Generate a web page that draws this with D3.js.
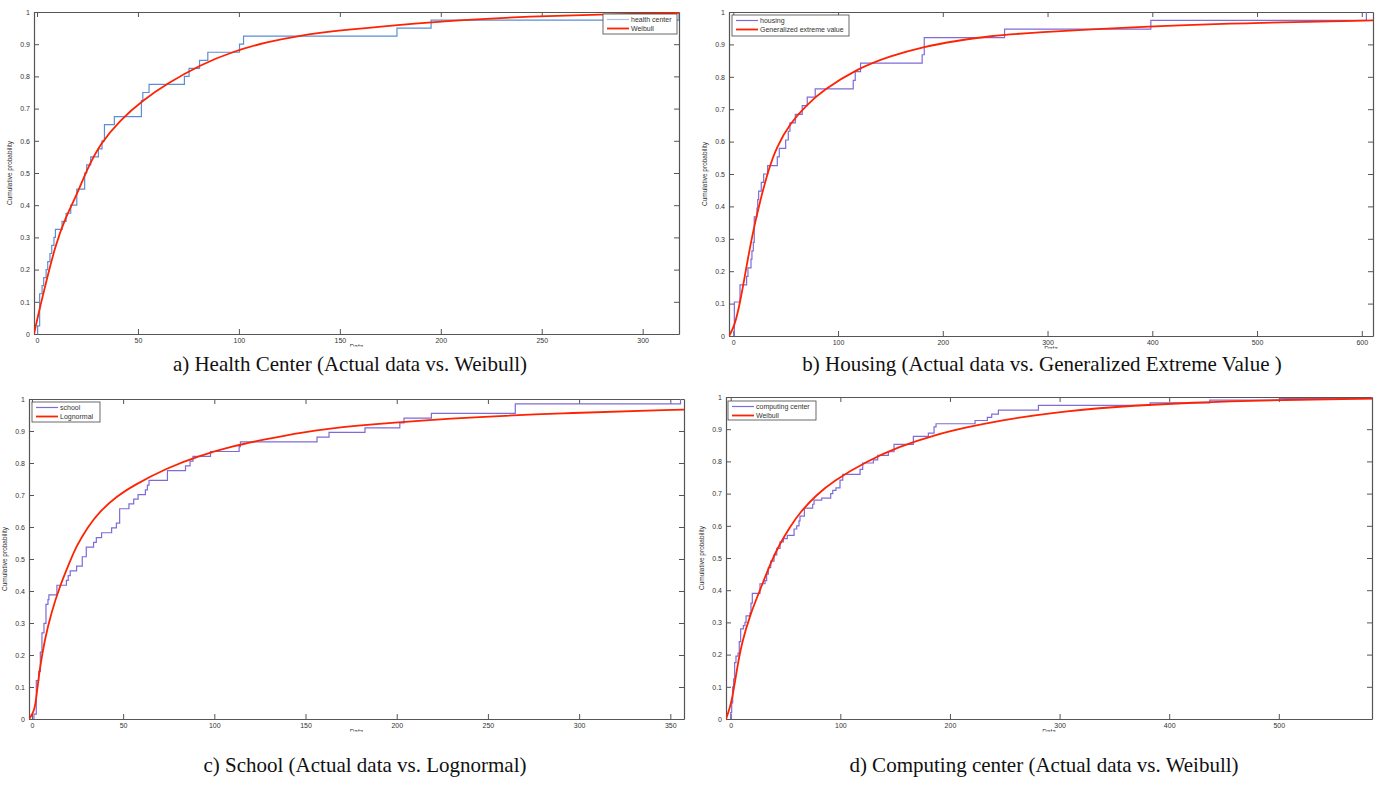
<!DOCTYPE html>
<html>
<head>
<meta charset="utf-8">
<script src="https://cdn.jsdelivr.net/npm/d3@7"></script>
<style>
body { margin: 0; background: #fff; }
.tick-label, .axis-label, .legend-text { font-family: "Liberation Sans", Arial, sans-serif; fill: #333; }
.caption { font-family: "Liberation Serif", "Times New Roman", serif; fill: #111; }
</style>
</head>
<body>
<svg id="fig" width="1385" height="785"></svg>
<script>
// ---- data ----
const probTicks = [0, 0.1, 0.2, 0.3, 0.4, 0.5, 0.6, 0.7, 0.8, 0.9, 1]

// a) health center
const healthXLim = [-1.5, 318]
const healthXTicks = [0, 50, 100, 150, 200, 250, 300]
const healthX = [0.3, 1.3, 2.5, 3.3, 4.5, 5.3, 6.4, 7.3, 8.4, 9.1, 12.4, 14.4, 16.7, 19.7, 23.6, 24.6, 26.6, 30.4, 32.2, 33.4, 38.3, 51.7, 52.4, 55.5, 73, 75.3, 80.5, 84.6, 100.3, 102.3, 178.3, 195.2, 318]
const healthP = [0.025, 0.125, 0.15, 0.175, 0.2, 0.225, 0.25, 0.275, 0.3, 0.325, 0.35, 0.375, 0.4, 0.45, 0.5, 0.525, 0.55, 0.575, 0.6, 0.65, 0.675, 0.725, 0.75, 0.775, 0.8, 0.825, 0.85, 0.875, 0.9, 0.925, 0.95, 0.975, 1]
const healthFitX = [-1.5, 1.5, 4.8, 8.9, 13.9, 19.7, 24.6, 31.2, 41.2, 52.7, 64.3, 80.8, 97.3, 113.9, 130.4, 146.9, 178.3, 211.4, 244.4, 277.5, 318]
const healthFitP = [0, 0.085, 0.168, 0.271, 0.359, 0.432, 0.509, 0.59, 0.665, 0.727, 0.777, 0.836, 0.878, 0.907, 0.927, 0.941, 0.96, 0.976, 0.986, 0.992, 0.997]

// b) housing
const housingXLim = [-4.1, 610.7]
const housingXTicks = [0, 100, 200, 300, 400, 500, 600]
const housingX = [1, 6.4, 12.7, 14, 16.9, 17.8, 19.1, 20, 22.6, 23.3, 24.2, 26.7, 29, 32.8, 42, 43.9, 50, 52.5, 54.1, 59.2, 65.8, 70.6, 78.2, 114.5, 116.4, 121.5, 180.3, 182.3, 259, 398.6, 604.4]
const housingP = [0.105, 0.158, 0.184, 0.21, 0.237, 0.263, 0.289, 0.368, 0.395, 0.421, 0.447, 0.474, 0.5, 0.526, 0.553, 0.579, 0.605, 0.632, 0.658, 0.684, 0.711, 0.737, 0.763, 0.789, 0.816, 0.842, 0.868, 0.921, 0.947, 0.974, 1]
const housingFitX = [-4.1, 1, 6.4, 12.8, 19.1, 25.5, 33.4, 41.4, 54.1, 70, 85.9, 117.7, 149.5, 181.3, 213.2, 245, 283, 397.6, 505.7, 610.7]
const housingFitP = [0, 0.029, 0.1, 0.219, 0.327, 0.415, 0.512, 0.584, 0.656, 0.713, 0.759, 0.824, 0.864, 0.893, 0.911, 0.926, 0.936, 0.957, 0.967, 0.974]

// c) school
const schoolXLim = [-1.6, 357.5]
const schoolXTicks = [0, 50, 100, 150, 200, 250, 300, 350]
const schoolX = [1.1, 2.4, 3.7, 4.6, 5.5, 6.6, 7.7, 8.8, 9.3, 13.7, 18.9, 19.9, 21, 24.5, 27.6, 29.8, 33.8, 35.3, 38.2, 43.7, 46.3, 48.1, 53.2, 55.8, 58.2, 62.2, 63.3, 64.2, 74.3, 84.2, 86.7, 88.3, 97.9, 113.6, 114.3, 156.3, 162.9, 182.6, 201.7, 204, 219, 265, 355.6]
const schoolP = [0.015, 0.12, 0.149, 0.209, 0.269, 0.299, 0.358, 0.373, 0.388, 0.418, 0.433, 0.448, 0.463, 0.478, 0.507, 0.537, 0.552, 0.567, 0.582, 0.597, 0.612, 0.657, 0.672, 0.687, 0.701, 0.716, 0.731, 0.746, 0.776, 0.791, 0.806, 0.821, 0.836, 0.851, 0.866, 0.881, 0.896, 0.91, 0.925, 0.94, 0.955, 0.985, 1]
const schoolFitX = [-1.6, 1.5, 2.7, 4.2, 7, 10.6, 15.2, 21.2, 24.3, 30.7, 37.1, 46.3, 55.4, 73.7, 92, 110.3, 128.6, 146.8, 174.3, 229, 290, 357.5]
const schoolFitP = [0, 0.024, 0.081, 0.154, 0.248, 0.331, 0.414, 0.497, 0.539, 0.601, 0.648, 0.695, 0.729, 0.784, 0.823, 0.853, 0.875, 0.895, 0.916, 0.94, 0.956, 0.967]

// d) computing center
const computingXLim = [-4.3, 585]
const computingXTicks = [0, 100, 200, 300, 400, 500]
const computingX = [0, 0.9, 1.8, 2.7, 3.6, 4.8, 6.7, 7.8, 9.1, 11.5, 13, 14, 17.6, 18.5, 19.7, 26.7, 31.3, 32.8, 34.3, 36.5, 39.5, 42, 45, 48, 51.6, 57.8, 60.2, 62.3, 63.2, 67.2, 74.8, 76, 83, 91.2, 93.1, 96, 99.7, 102.2, 118, 120.4, 130.1, 134.1, 143.8, 149, 166.6, 180.3, 185.5, 187.3, 222.9, 234.1, 238.1, 244.2, 280.7, 382.6, 437, 501, 585]
const computingP = [0.02, 0.05, 0.1, 0.125, 0.175, 0.195, 0.205, 0.24, 0.28, 0.29, 0.3, 0.32, 0.33, 0.36, 0.39, 0.42, 0.43, 0.45, 0.47, 0.49, 0.51, 0.53, 0.55, 0.56, 0.57, 0.59, 0.6, 0.615, 0.63, 0.655, 0.667, 0.68, 0.686, 0.7, 0.71, 0.718, 0.742, 0.76, 0.775, 0.795, 0.805, 0.819, 0.83, 0.853, 0.878, 0.888, 0.907, 0.917, 0.927, 0.937, 0.947, 0.959, 0.974, 0.982, 0.99, 0.995, 1]
const computingFitX = [-4.3, 0.9, 5.5, 10, 17.6, 26.7, 37.4, 45, 54.1, 63.2, 78.5, 93.6, 124.1, 154.5, 184.9, 215.3, 245.7, 291.3, 350, 420, 500, 585]
const computingFitP = [0, 0.049, 0.152, 0.235, 0.323, 0.4, 0.493, 0.545, 0.597, 0.642, 0.697, 0.739, 0.801, 0.847, 0.881, 0.906, 0.927, 0.951, 0.97, 0.983, 0.991, 0.995]

// ---- drawing ----
const svg = d3.select('#fig')

const panels = [
    {box: [34, 12, 679, 334], xlim: healthXLim, xticks: healthXTicks, x: healthX, p: healthP,
     fitX: healthFitX, fitP: healthFitP, color: '#5b8ed6', legendColor: '#a9c3e6',
     names: ['health center', 'Weibull'], legend: [603, 14, 74, 20],
     caption: 'a) Health Center (Actual data vs. Weibull)', capX: 350, capY: 371},
    {box: [729, 12, 1373, 336], xlim: housingXLim, xticks: housingXTicks, x: housingX, p: housingP,
     fitX: housingFitX, fitP: housingFitP, color: '#7d6cd8', legendColor: '#7d6cd8',
     names: ['housing', 'Generalized extreme value'], legend: [732, 15, 117, 21],
     caption: 'b) Housing (Actual data vs. Generalized Extreme Value )', capX: 1042, capY: 371},
    {box: [29, 399, 684, 719], xlim: schoolXLim, xticks: schoolXTicks, x: schoolX, p: schoolP,
     fitX: schoolFitX, fitP: schoolFitP, color: '#7d6cd8', legendColor: '#7d6cd8',
     names: ['school', 'Lognormal'], legend: [32, 402, 68, 20],
     caption: 'c) School (Actual data vs. Lognormal)', capX: 365, capY: 772},
    {box: [726, 397, 1372, 719], xlim: computingXLim, xticks: computingXTicks, x: computingX, p: computingP,
     fitX: computingFitX, fitP: computingFitP, color: '#7d6cd8', legendColor: '#7d6cd8',
     names: ['computing center', 'Weibull'], legend: [728, 401, 88, 19],
     caption: 'd) Computing center (Actual data vs. Weibull)', capX: 1044, capY: 772}
]

const red = '#ff2200'
const axisColor = '#555'

const draw_panel = function(cfg, idx) {
    const [x0, y0, x1, y1] = cfg.box
    const xScale = d3.scaleLinear().domain(cfg.xlim).range([x0, x1])
    const yScale = d3.scaleLinear().domain([0, 1]).range([y1, y0])

    const g = svg.append('g')

    const clipId = 'clip' + idx
    g.append('clipPath').attr('id', clipId)
     .append('rect').attr('x', x0).attr('y', y0 - 2).attr('width', x1 - x0).attr('height', y1 - y0 + 4)

    // axes, MATLAB style: ticks inward, box on
    const bottom = d3.axisBottom(xScale).tickValues(cfg.xticks).tickSize(-5).tickPadding(4).tickSizeOuter(0)
    const top = d3.axisTop(xScale).tickValues(cfg.xticks).tickSize(-5).tickFormat('').tickSizeOuter(0)
    const left = d3.axisLeft(yScale).tickValues(probTicks).tickSize(-5).tickPadding(4)
                   .tickFormat(d => d === 0 || d === 1 ? d3.format('d')(d) : d3.format('.1f')(d)).tickSizeOuter(0)
    const right = d3.axisRight(yScale).tickValues(probTicks).tickSize(-5).tickFormat('').tickSizeOuter(0)

    const axes = [
        [bottom, `translate(0,${y1})`],
        [top, `translate(0,${y0})`],
        [left, `translate(${x0},0)`],
        [right, `translate(${x1},0)`]
    ]
    axes.forEach(([ax, tr]) => {
        const a = g.append('g').attr('transform', tr).call(ax)
        a.select('.domain').attr('stroke', axisColor).attr('stroke-width', 1.2)
        a.selectAll('.tick line').attr('stroke', axisColor).attr('stroke-width', 1)
        a.selectAll('.tick text').attr('class', 'tick-label').attr('font-size', 7).attr('fill', '#333')
    })

    // empirical cdf as stairs
    const steps = [{x: cfg.x[0], p: 0}].concat(cfg.x.map((v, i) => ({x: v, p: cfg.p[i]})))
    const stairs = d3.line().x(d => xScale(d.x)).y(d => yScale(d.p)).curve(d3.curveStepAfter)
    g.append('path')
     .attr('clip-path', `url(#${clipId})`)
     .attr('d', stairs(steps))
     .attr('fill', 'none').attr('stroke', cfg.color).attr('stroke-width', 1.2)

    // fitted distribution
    const fit = cfg.fitX.map((v, i) => ({x: v, p: cfg.fitP[i]}))
    const fitLine = d3.line().x(d => xScale(d.x)).y(d => yScale(d.p)).curve(d3.curveBasis)
    g.append('path')
     .attr('clip-path', `url(#${clipId})`)
     .attr('d', fitLine(fit))
     .attr('fill', 'none').attr('stroke', red).attr('stroke-width', 1.8)

    // legend
    const [lx, ly, lw, lh] = cfg.legend
    const leg = g.append('g')
    leg.append('rect').attr('x', lx).attr('y', ly).attr('width', lw).attr('height', lh)
       .attr('fill', '#fff').attr('stroke', '#444').attr('stroke-width', 0.8)
    const legColors = [cfg.legendColor, red]
    cfg.names.forEach((name, i) => {
        const yy = ly + 5.5 + i * 9
        leg.append('line').attr('x1', lx + 4).attr('x2', lx + 26).attr('y1', yy).attr('y2', yy)
           .attr('stroke', legColors[i]).attr('stroke-width', i === 0 ? 1.2 : 1.8)
        leg.append('text').attr('class', 'legend-text').attr('x', lx + 28).attr('y', yy + 2.3)
           .attr('font-size', 7).text(name)
    })

    // axis labels
    g.append('text').attr('class', 'axis-label')
     .attr('transform', `translate(${x0 - 22},${(y0 + y1) / 2}) rotate(-90)`)
     .attr('text-anchor', 'middle').attr('font-size', 6.5).text('Cumulative probability')
    g.append('text').attr('class', 'axis-label')
     .attr('x', (x0 + x1) / 2).attr('y', y1 + 14.5).attr('text-anchor', 'middle')
     .attr('font-size', 6.5).text('Data')

    // the caption image sits over the bottom half of "Data"
    g.append('rect').attr('x', x0).attr('y', y1 + 12.5).attr('width', x1 - x0).attr('height', 6).attr('fill', '#fff')

    g.append('text').attr('class', 'caption')
     .attr('x', cfg.capX).attr('y', cfg.capY).attr('text-anchor', 'middle')
     .attr('font-size', 21).text(cfg.caption)
}

panels.forEach(draw_panel)
</script>
</body>
</html>
